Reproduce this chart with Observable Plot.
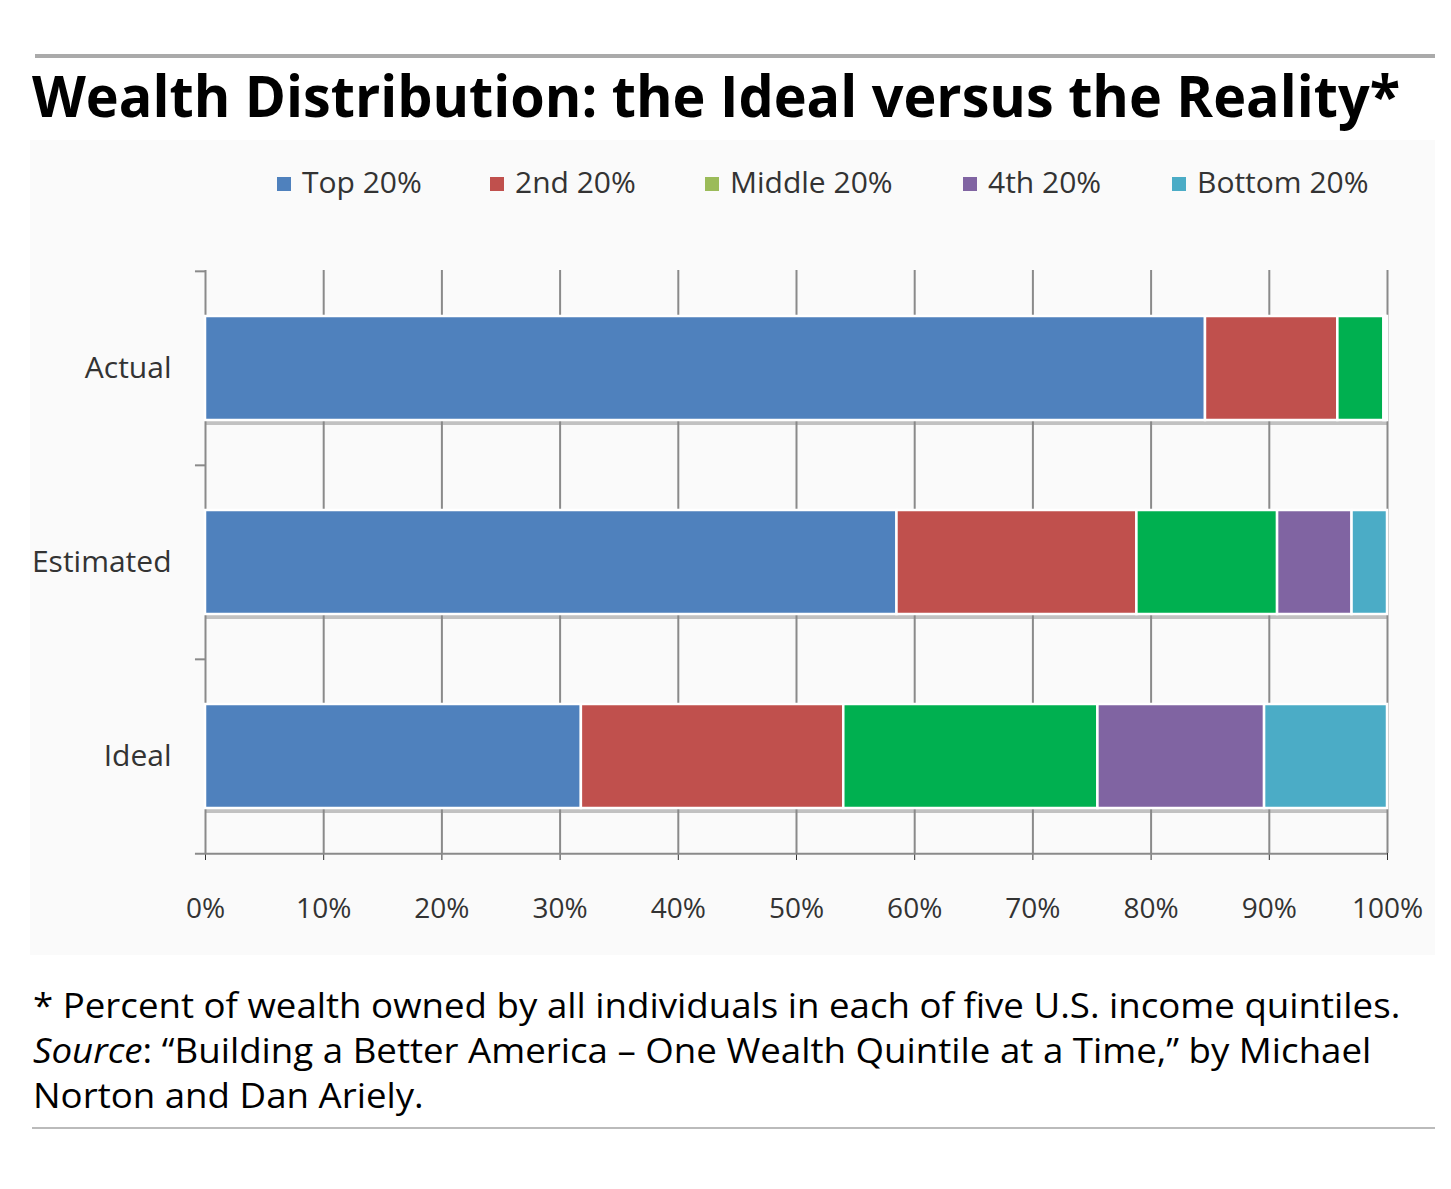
<!DOCTYPE html>
<html>
<head>
<meta charset="utf-8">
<script src="https://cdn.jsdelivr.net/npm/d3@7"></script>
<script src="https://cdn.jsdelivr.net/npm/@observablehq/plot@0.6"></script>
<style>
  body { margin:0; background:#fff; width:1451px; height:1189px; position:relative; font-family:"Open Sans", sans-serif; overflow:hidden; }
  .abs { position:absolute; }
  #toprule { left:35px; top:54px; width:1400px; height:4px; background:#aaa; }
  #title { left:32px; top:55px; font-weight:bold; font-size:58px; color:#000; white-space:nowrap; transform-origin:0 0; line-height:80px; }
  #panel { left:30px; top:140px; width:1405px; height:815px; background:#fafafa; }
  .leg { top:20px; font-size:30px; color:#333; white-space:nowrap; line-height:44px; }
  .leg span.sw { display:inline-block; width:14px; height:14px; margin-right:11px; vertical-align:2px; }
  #chart { left:0; top:90px; }
  #caption { left:33px; top:983px; font-size:34px; color:#000; line-height:45px; white-space:nowrap; transform-origin:0 0; }
  #botrule { left:32px; top:1127px; width:1403px; height:2px; background:#bbb; }
  g[aria-label="shadow"] { filter: blur(1.5px); }
  g[aria-label^="y-axis"] text { font-size:30px; }
  g[aria-label^="x-axis"] text { font-size:28px; }
</style>
</head>
<body>
<div id="toprule" class="abs"></div>
<div id="title" class="abs">Wealth Distribution: the Ideal versus the Reality*</div>
<div id="panel" class="abs">
  <div id="legend"></div>
  <div id="chart" class="abs"></div>
</div>
<div id="caption" class="abs">
  <div class="cl">* Percent of wealth owned by all individuals in each of five U.S. income quintiles.</div>
  <div class="cl"><i>Source</i>: “Building a Better America – One Wealth Quintile at a Time,” by Michael</div>
  <div class="cl">Norton and Dan Ariely.</div>
</div>
<div id="botrule" class="abs"></div>
<script>
// ---- data ----
const categories = ["Actual", "Estimated", "Ideal"];
const quintiles = ["Top 20%", "2nd 20%", "Middle 20%", "4th 20%", "Bottom 20%"];
const actual = [84.6, 11.2, 3.9, 0.2, 0.1];
const estimated = [58.5, 20.3, 11.9, 6.3, 3.0];
const ideal = [31.8, 22.2, 21.5, 14.1, 10.4];
const xTicks = [0, 10, 20, 30, 40, 50, 60, 70, 80, 90, 100];

const barColors = ["#4F81BD", "#C0504D", "#00B050", "#8064A2", "#4BACC6"];
const legendColors = ["#4F81BD", "#C0504D", "#9BBB59", "#8064A2", "#4BACC6"];

const series = {Actual: actual, Estimated: estimated, Ideal: ideal};
const rows = [];
for (const c of categories) quintiles.forEach((q, i) => rows.push({category: c, quintile: q, value: series[c][i]}));
const totals = categories.map(c => ({category: c, total: d3.sum(series[c])}));

// ---- legend ----
const legendX = [247, 460, 675, 933, 1142];
const legend = document.getElementById("legend");
quintiles.forEach((q, i) => {
  const d = document.createElement("div");
  d.className = "abs leg";
  d.style.left = legendX[i] + "px";
  d.innerHTML = `<span class="sw" style="background:${legendColors[i]}"></span>${q}`;
  legend.appendChild(d);
});

// ---- chart ----
const W = 1405, mt = 40, mb = 97, ml = 175, mr = 48;
const H = 720;
const plotH = H - mt - mb;
const step = plotH / categories.length;

const chart = Plot.plot({
  width: W, height: H,
  marginTop: mt, marginBottom: mb, marginLeft: ml, marginRight: mr,
  style: {fontFamily: "Open Sans, sans-serif", fontSize: "29px", color: "#333", background: "transparent", overflow: "visible"},
  x: {domain: [0, 100], ticks: xTicks, tickFormat: d => d + "%", tickSize: 7, tickPadding: 38, label: null},
  y: {domain: categories, paddingInner: 0.465, paddingOuter: 0.2325, tickSize: 0, tickPadding: 34, label: null},
  color: {domain: quintiles, range: barColors},
  marks: [
    Plot.ruleX(xTicks, {x: d => d, stroke: "#8a8a8a", strokeWidth: 2}),
    Plot.ruleY(categories, {y: d => d, x1: -0.85, x2: 0, dy: -step / 2, stroke: "#8a8a8a", strokeWidth: 2}),
    Plot.ruleY(["Ideal"], {y: d => d, x1: -0.85, x2: 100, dy: step / 2, stroke: "#8a8a8a", strokeWidth: 2}),
    Plot.barX(totals, {y: "category", x: "total", dy: 5, fill: "#888", fillOpacity: 0.5, ariaLabel: "shadow"}),
    Plot.barX(rows, Plot.stackX({y: "category", x: "value", fill: "quintile", stroke: "#fff", strokeWidth: 2.5})),
  ]
});
document.getElementById("chart").appendChild(chart);

// ---- fit title / caption widths ----
function fit(el, target) {
  const w = el.getBoundingClientRect().width;
  el.style.transform = `scaleX(${target / w})`;
}
fit(document.getElementById("title"), 1368);
const cap = document.getElementById("caption");
const l1 = cap.querySelector(".cl");
const w1 = l1.scrollWidth;
cap.style.transform = `scaleX(${1367 / w1})`;
</script>
</body>
</html>
